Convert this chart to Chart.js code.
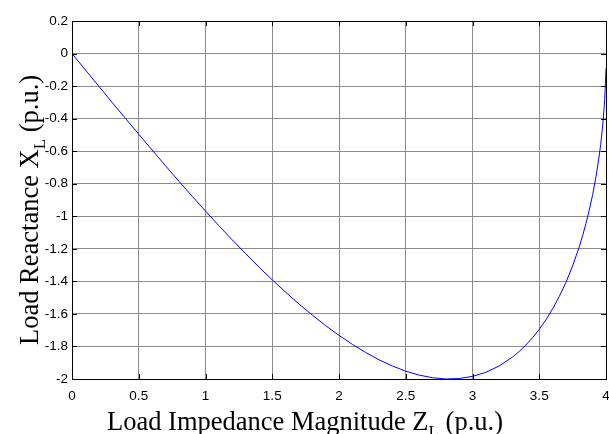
<!DOCTYPE html>
<html><head><meta charset="utf-8">
<style>html,body{margin:0;padding:0;background:#fff;}#wrap{width:609px;height:434px;position:relative;overflow:hidden;}</style>
<script src="https://cdn.jsdelivr.net/npm/chart.js@4/dist/chart.umd.min.js"></script>
</head><body><div id="wrap"><canvas id="c" width="609" height="434"></canvas></div>
<script>
// Load impedance magnitude Z_L (p.u.)
const impedance = [0,0.1,0.2,0.3,0.4,0.5,0.6,0.7,0.8,0.9,1.0,1.1,1.2,1.3,1.4,1.5,1.6,1.7,1.8,1.9,2.0,2.1,2.2,2.3,2.4,2.5,2.6,2.7,2.8,2.9,3.0,3.1,3.2,3.3,3.35,3.4,3.45,3.5,3.55,3.6,3.65,3.7,3.75,3.8,3.825,3.85,3.875,3.9,3.925,3.95,3.96,3.97,3.98,3.99,3.995,4.0];
// Load reactance X_L (p.u.)
const reactance = [0,-0.10,-0.20,-0.30,-0.398,-0.496,-0.593,-0.689,-0.784,-0.877,-0.968,-1.058,-1.145,-1.229,-1.312,-1.391,-1.466,-1.539,-1.607,-1.672,-1.732,-1.787,-1.837,-1.882,-1.920,-1.952,-1.976,-1.992,-2.000,-1.997,-1.984,-1.959,-1.920,-1.865,-1.831,-1.791,-1.746,-1.695,-1.636,-1.569,-1.493,-1.406,-1.305,-1.187,-1.119,-1.044,-0.961,-0.867,-0.757,-0.623,-0.559,-0.485,-0.398,-0.282,-0.200,-0.09];
const xTickValues = [0,0.5,1,1.5,2,2.5,3,3.5,4];
const xTickLabels = ['0','0.5','1','1.5','2','2.5','3','3.5','4'];
const yTickValues = [0.2,0,-0.2,-0.4,-0.6,-0.8,-1,-1.2,-1.4,-1.6,-1.8,-2];
const yTickLabels = ['0.2','0','-0.2','-0.4','-0.6','-0.8','-1','-1.2','-1.4','-1.6','-1.8','-2'];
const xTitleParts = ['Load Impedance Magnitude Z','L',' (p.u.)'];
const yTitleParts = ['Load Reactance X','L',' (p.u.)'];

const serif = '"Liberation Serif","Times New Roman",serif';
function drawSubTitle(ctx, parts, size){
  let x = 0;
  ctx.font = size + 'px ' + serif;
  ctx.fillText(parts[0], x, 0); x += ctx.measureText(parts[0]).width;
  ctx.font = Math.round(size*0.66) + 'px ' + serif;
  ctx.fillText(parts[1], x, size*0.28); x += ctx.measureText(parts[1]).width;
  ctx.font = size + 'px ' + serif;
  ctx.fillText(parts[2], x, 0);
}

const framePlugin = {
  id:'frame',
  afterDraw(chart){
    const {ctx, chartArea:a, scales} = chart;
    ctx.save();
    ctx.strokeStyle = '#000'; ctx.lineWidth = 1;
    ctx.beginPath();
    const L = 5;
    scales.x.ticks.forEach(t=>{
      const px = Math.round(scales.x.getPixelForValue(t.value)) + 0.5;
      ctx.moveTo(px, a.bottom); ctx.lineTo(px, a.bottom - L);
      ctx.moveTo(px, a.top); ctx.lineTo(px, a.top + L);
    });
    scales.y.ticks.forEach(t=>{
      const py = Math.round(scales.y.getPixelForValue(t.value)) + 0.5;
      ctx.moveTo(a.left, py); ctx.lineTo(a.left + L, py);
      ctx.moveTo(a.right, py); ctx.lineTo(a.right - L, py);
    });
    ctx.stroke();
    ctx.strokeRect(Math.round(a.left)+0.5, Math.round(a.top)+0.5, Math.round(a.right-a.left), Math.round(a.bottom-a.top));
    ctx.fillStyle = '#000';
    ctx.textBaseline = 'alphabetic'; ctx.textAlign = 'left';
    ctx.save(); ctx.translate(107, 430); drawSubTitle(ctx, xTitleParts, 26.5); ctx.restore();
    ctx.save(); ctx.translate(38, 345); ctx.rotate(-Math.PI/2); drawSubTitle(ctx, yTitleParts, 26.5); ctx.restore();
    ctx.restore();
  }
};

const tickFont = {family:'"Liberation Sans",Arial,sans-serif', size:13.5};
new Chart(document.getElementById('c'), {
  type:'line',
  data:{datasets:[{
    data: impedance.map((z,i)=>({x:z, y:reactance[i]})),
    borderColor:'#0000ff', borderWidth:1, pointRadius:0, tension:0, fill:false
  }]},
  options:{
    responsive:false, devicePixelRatio:1, animation:false,
    layout:{padding:{top:21,right:3,left:0,bottom:0}},
    plugins:{legend:{display:false}, tooltip:{enabled:false}},
    scales:{
      x:{type:'linear', min:0, max:4,
        afterBuildTicks:s=>{s.ticks = xTickValues.map(v=>({value:v}));},
        afterFit:s=>{s.height = 55; s.paddingLeft = 0; s.paddingRight = 0;},
        ticks:{color:'#000', font:tickFont, padding:9, maxRotation:0, autoSkip:false,
          callback:(v)=>xTickLabels[xTickValues.indexOf(v)]},
        grid:{color:'#8c8c8c', lineWidth:1, drawTicks:false},
        border:{display:false}
      },
      y:{type:'linear', min:-2, max:0.2,
        afterBuildTicks:s=>{s.ticks = yTickValues.map(v=>({value:v}));},
        afterFit:s=>{s.width = 72; s.paddingTop = 0; s.paddingBottom = 0;},
        ticks:{color:'#000', font:tickFont, padding:4, autoSkip:false,
          callback:(v)=>{const i = yTickValues.findIndex(t=>Math.abs(t-v)<1e-9); return yTickLabels[i];}},
        grid:{color:'#8c8c8c', lineWidth:1, drawTicks:false},
        border:{display:false}
      }
    }
  },
  plugins:[framePlugin]
});
</script></body></html>
